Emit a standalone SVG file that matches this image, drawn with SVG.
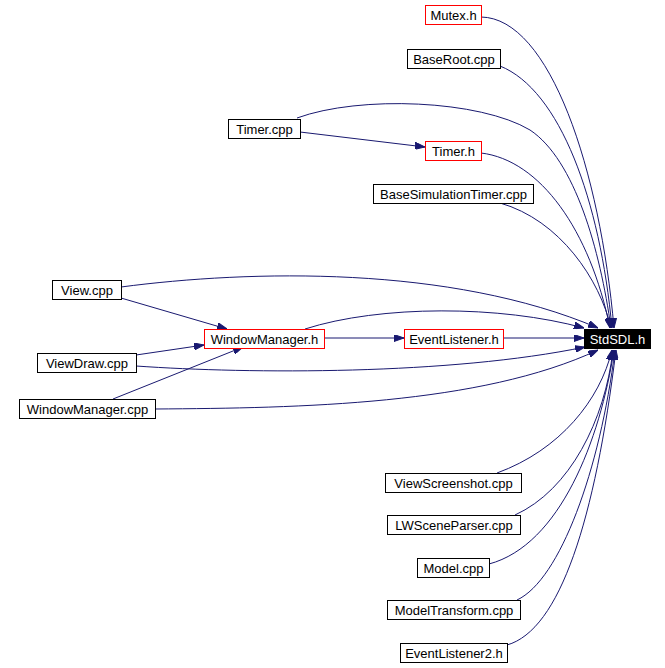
<svg xmlns="http://www.w3.org/2000/svg" width="665" height="668" viewBox="0 0 665 668">
<style>
  .n rect { fill: #ffffff; stroke: #000000; stroke-width: 1; }
  .n.r rect { stroke: #ff0000; }
  .n.b rect { fill: #000000; }
  .n text { font-family: "Liberation Sans", Arial, sans-serif; font-size: 13px; fill: #000000; text-anchor: middle; }
  .n.b text { fill: #ffffff; }
  .e path { fill: none; stroke: #191970; stroke-width: 1; marker-end: url(#ah); }
</style>
<defs>
  <marker id="ah" viewBox="0 0 10 7" refX="10" refY="3.5" markerWidth="10" markerHeight="7" markerUnits="userSpaceOnUse" orient="auto">
    <path d="M0,0 L10,3.5 L0,7 z" fill="#191970" stroke="#191970"/>
  </marker>
</defs>
<rect width="665" height="668" fill="#ffffff"/>
<g id="edges" class="e">
  <path d="M481,17 C550,18 600,170 614,328"/>
  <path d="M500,66 C560,90 600,200 612,328"/>
  <path d="M297,118 C360,95 480,100 530,130 C575,160 600,250 611,328"/>
  <path d="M300,132 L425,147"/>
  <path d="M481,153 C540,160 590,230 610,328"/>
  <path d="M500,203 C560,220 600,280 611,328"/>
  <path d="M121,287 C250,270 450,265 598,328"/>
  <path d="M305,329 C380,305 500,305 584,328"/>
  <path d="M324,338 L404,338"/>
  <path d="M503,338 L584,338"/>
  <path d="M136,366 C250,374 450,375 585,347"/>
  <path d="M155,409 C300,408 480,405 598,350"/>
  <path d="M121,298 L227,329"/>
  <path d="M136,355 L204,345"/>
  <path d="M113,399 L243,347"/>
  <path d="M497,473 C560,450 600,400 612,350"/>
  <path d="M515,515 C570,490 605,420 613,350"/>
  <path d="M489,564 C560,545 600,440 614,350"/>
  <path d="M517,600 C560,580 600,470 615,350"/>
  <path d="M507,645 C560,630 595,520 616,350"/>
</g>
<g id="n_mutex" class="n r"><rect x="425.5" y="5.5" width="56" height="19"/><text x="453.5" y="20">Mutex.h</text></g>
<g id="n_baseroot" class="n"><rect x="407.5" y="49.5" width="93" height="19"/><text x="454" y="64">BaseRoot.cpp</text></g>
<g id="n_timercpp" class="n"><rect x="228.5" y="119.5" width="72" height="19"/><text x="264.5" y="134">Timer.cpp</text></g>
<g id="n_timerh" class="n r"><rect x="425.5" y="141.5" width="56" height="19"/><text x="453.5" y="156">Timer.h</text></g>
<g id="n_basesim" class="n"><rect x="373.5" y="184.5" width="160" height="19"/><text x="453.5" y="199">BaseSimulationTimer.cpp</text></g>
<g id="n_view" class="n"><rect x="52.5" y="280.5" width="69" height="19"/><text x="87" y="295">View.cpp</text></g>
<g id="n_wmh" class="n r"><rect x="204.5" y="329.5" width="120" height="19"/><text x="264.5" y="344">WindowManager.h</text></g>
<g id="n_evh" class="n r"><rect x="404.5" y="329.5" width="99" height="19"/><text x="454" y="344">EventListener.h</text></g>
<g id="n_stdsdl" class="n b"><rect x="584.5" y="329.5" width="66" height="19"/><text x="617.5" y="344">StdSDL.h</text></g>
<g id="n_viewdraw" class="n"><rect x="37.5" y="353.5" width="99" height="19"/><text x="87" y="368">ViewDraw.cpp</text></g>
<g id="n_wmcpp" class="n"><rect x="19.5" y="399.5" width="136" height="19"/><text x="87.5" y="414">WindowManager.cpp</text></g>
<g id="n_viewss" class="n"><rect x="385.5" y="473.5" width="136" height="19"/><text x="453.5" y="488">ViewScreenshot.cpp</text></g>
<g id="n_lwscene" class="n"><rect x="387.5" y="515.5" width="133" height="19"/><text x="454" y="530">LWSceneParser.cpp</text></g>
<g id="n_model" class="n"><rect x="417.5" y="558.5" width="72" height="19"/><text x="453.5" y="573">Model.cpp</text></g>
<g id="n_modeltr" class="n"><rect x="387.5" y="600.5" width="133" height="19"/><text x="454" y="615">ModelTransform.cpp</text></g>
<g id="n_ev2" class="n"><rect x="400.5" y="643.5" width="107" height="19"/><text x="454" y="658">EventListener2.h</text></g>
</svg>
